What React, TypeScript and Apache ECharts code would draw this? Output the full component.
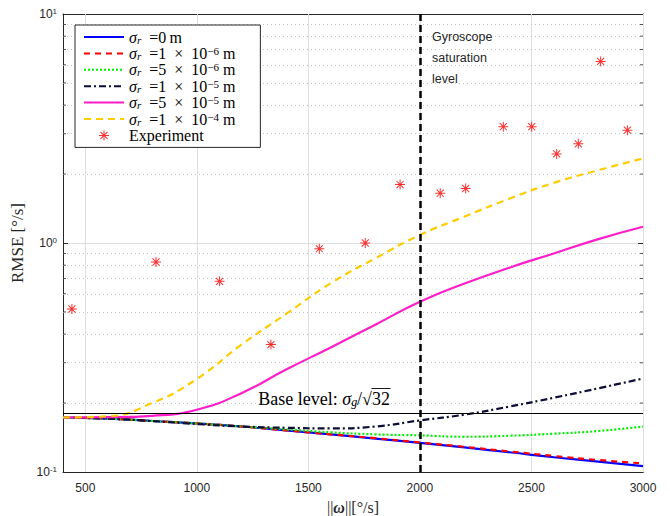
import React, { useEffect, useRef } from 'react';
import * as echarts from 'echarts';

// ---- data ----
const omega = [400, 600, 800, 1000, 1200, 1400, 1600, 1800, 2000, 2200, 2400, 2600, 2800, 3000];
const rmseSigma0 = [0.173, 0.171, 0.167, 0.163, 0.158, 0.152, 0.146, 0.140, 0.134, 0.128, 0.122, 0.116, 0.111, 0.106];
const rmseSigma1e6 = [0.173, 0.171, 0.167, 0.163, 0.158, 0.152, 0.146, 0.1405, 0.1345, 0.1288, 0.123, 0.1175, 0.1128, 0.109];
const rmseSigma5e6 = [0.173, 0.171, 0.167, 0.163, 0.158, 0.1535, 0.149, 0.146, 0.1445, 0.1425, 0.144, 0.147, 0.151, 0.158];
const rmseSigma1e5 = [0.173, 0.171, 0.167, 0.162, 0.158, 0.156, 0.155, 0.158, 0.168, 0.178, 0.193, 0.211, 0.232, 0.256];
const rmseSigma5e5 = [0.173, 0.1735, 0.176, 0.187, 0.221, 0.28, 0.35, 0.44, 0.554, 0.665, 0.78, 0.90, 1.04, 1.178];
const rmseSigma1e4 = [0.173, 0.175, 0.2, 0.255, 0.36, 0.49, 0.667, 0.857, 1.084, 1.304, 1.56, 1.83, 2.08, 2.34];
const expOmega = [440, 817, 1102, 1332, 1549, 1755, 1911, 2091, 2205, 2374, 2501, 2613, 2710, 2810, 2930];
const expRmse = [0.515, 0.826, 0.68, 0.36, 0.944, 1.0, 1.80, 1.65, 1.73, 3.22, 3.22, 2.45, 2.71, 6.21, 3.11];
const baseLevel = 0.1756;
const saturationLevel = 2000;
const xTicks = [500, 1000, 1500, 2000, 2500, 3000];
const yMinor = [0.2, 0.3, 0.4, 0.5, 0.6, 0.7, 0.8, 0.9, 2, 3, 4, 5, 6, 7, 8, 9];
const seriesNames = ['s0', 's1e6', 's5e6', 's1e5', 's5e5', 's1e4', 'exp'];
const ES = '\u2002';
const TS = '\u2009';
const legendLabels: Record<string, string> = {
  s0: `{i|σ}{sub|r}{n|${ES}=0${TS}m}`,
  s1e6: `{i|σ}{sub|r}{n|${ES}=1${ES}×${ES}10}{sup|−6}{n| m}{pad|.}`,
  s5e6: `{i|σ}{sub|r}{n|${ES}=5${ES}×${ES}10}{sup|−6}{n| m}`,
  s1e5: `{i|σ}{sub|r}{n|${ES}=1${ES}×${ES}10}{sup|−5}{n| m}`,
  s5e5: `{i|σ}{sub|r}{n|${ES}=5${ES}×${ES}10}{sup|−5}{n| m}`,
  s1e4: `{i|σ}{sub|r}{n|${ES}=1${ES}×${ES}10}{sup|−4}{n| m}`,
  exp: '{n|Experiment}',
};

const SERIF = '"Liberation Serif", "Times New Roman", serif';
const SANS = '"Liberation Sans", Arial, sans-serif';
const AX = '#262626';

const asterisk =
  'path://M-4,-4L-3.95,-4L-4,-3.95Z M24,24L23.95,24L24,23.95Z ' +
  'M9,0L11,0L11,20L9,20Z M0,9L20,9L20,11L0,11Z ' +
  'M3.64,2.22L17.78,16.36L16.36,17.78L2.22,3.64Z ' +
  'M16.36,2.22L17.78,3.64L3.64,17.78L2.22,16.36Z';

function zip(xs: number[], ys: number[]) {
  return xs.map((x, i) => [x, ys[i]]);
}

export default function App() {
  const ref = useRef<HTMLDivElement>(null);
  useEffect(() => {
    if (!ref.current) return;
    const chart = echarts.init(ref.current, undefined, { renderer: 'svg' });
    const lineSeries = (name: string, data: number[], color: string, type: any, width = 2, z = 3) => ({
      name,
      type: 'line',
      data: zip(omega, data),
      symbol: 'none',
      smooth: 0.5,
      z,
      lineStyle: { color, width, type },
      itemStyle: { color },
    });
    const sqrtX = 372;
    const option: any = {
      animation: false,
      grid: { left: 63, right: 27, top: 14, bottom: 44, containLabel: false, outerBoundsMode: 'none' },
      xAxis: [
        {
          type: 'value', min: 400, max: 3000, position: 'bottom',
          axisLine: { show: true, lineStyle: { color: AX, width: 1 } },
          axisTick: { show: true, inside: true, length: 5, customValues: xTicks, lineStyle: { color: AX } },
          axisLabel: { customValues: xTicks, fontFamily: SANS, fontSize: 12, color: AX, margin: 10, formatter: (v: number) => String(v) },
          splitLine: { show: false },
          name: '{n|||}{w|ω}{n|||[°/s]}',
          nameLocation: 'middle', nameGap: 27,
          nameTextStyle: {
            fontFamily: SERIF, fontSize: 16, color: AX, lineHeight: 16,
            rich: {
              n: { fontFamily: SERIF, fontSize: 16, color: AX, lineHeight: 16 },
              w: { fontFamily: SERIF, fontSize: 16, fontWeight: 'bold', fontStyle: 'italic', color: AX, lineHeight: 16 },
            },
          },
        },
        {
          type: 'value', min: 400, max: 3000, position: 'top',
          axisLine: { show: true, lineStyle: { color: AX, width: 1 } },
          axisTick: { show: true, inside: true, length: 5, customValues: xTicks, lineStyle: { color: AX } },
          axisLabel: { show: false },
          splitLine: { show: false },
        },
      ],
      yAxis: [
        {
          type: 'log', logBase: 10, min: 0.1, max: 10, position: 'left',
          axisLine: { show: true, lineStyle: { color: AX, width: 1 } },
          axisTick: { show: true, inside: true, length: 5, lineStyle: { color: AX } },
          axisLabel: {
            margin: 6,
            formatter: (v: number) => `{b|10}{e|${Math.round(Math.log10(v))}}`,
            rich: {
              b: { fontFamily: SANS, fontSize: 12, color: AX, lineHeight: 14 },
              e: { fontFamily: SANS, fontSize: 8, color: AX, verticalAlign: 'top', lineHeight: 8 },
            },
          },
          splitLine: { show: true, lineStyle: { color: '#dedede', width: 1 } },
          name: 'RMSE [°/s]', nameLocation: 'middle', nameGap: 34,
          nameTextStyle: { fontFamily: SERIF, fontSize: 17, color: AX },
        },
        {
          type: 'log', logBase: 10, min: 0.1, max: 10, position: 'right',
          axisLine: { show: true, lineStyle: { color: AX, width: 1 } },
          axisTick: { show: true, inside: true, length: 5, lineStyle: { color: AX } },
          axisLabel: { show: false },
          splitLine: { show: false },
        },
      ],
      legend: {
        data: seriesNames.map((n) => (n === 'exp' ? { name: n } : { name: n, itemStyle: { opacity: 0 } })),
        left: 75, top: 25, orient: 'vertical',
        itemWidth: 40, itemHeight: 14, itemGap: 0.4,
        padding: [4, 8, 4, 8],
        borderColor: AX, borderWidth: 1, backgroundColor: '#fff',
        selectedMode: false,
        formatter: (name: string) => legendLabels[name],
        textStyle: {
          fontFamily: SERIF, fontSize: 16, color: '#000',
          rich: {
            n: { fontFamily: SERIF, fontSize: 16, color: '#000', lineHeight: 16 },
            i: { fontFamily: SERIF, fontSize: 16, fontStyle: 'italic', color: '#000', lineHeight: 16 },
            sub: { fontFamily: SERIF, fontSize: 11, fontStyle: 'italic', color: '#000', verticalAlign: 'bottom', lineHeight: 8 },
            sup: { fontFamily: SERIF, fontSize: 11, color: '#000', verticalAlign: 'top', lineHeight: 7 },
            pad: { fontSize: 10, width: 17, lineHeight: 16, color: 'rgba(0,0,0,0)' },
          },
        },
      },
      series: [
        {
          name: 'grid', type: 'line', data: [[400, 0.173]], symbol: 'none', silent: true,
          lineStyle: { opacity: 0 }, z: 1,
          markLine: {
            silent: true, symbol: ['none', 'none'], z: 1, label: { show: false },
            data: [
              ...xTicks.map((v) => ({ xAxis: v, lineStyle: { color: '#dedede', width: 1, type: 'solid' } })),
              ...yMinor.map((v) => ({ yAxis: v, lineStyle: { color: '#c4c4c4', width: 1, type: [1, 3] } })),
            ],
          },
        },
        {
          name: 'minorL', type: 'scatter', data: yMinor.map((v) => [400, v]), symbol: 'rect',
          symbolSize: [3, 1], symbolOffset: [1.5, 0], itemStyle: { color: AX }, silent: true, z: 2,
        },
        {
          name: 'minorR', type: 'scatter', data: yMinor.map((v) => [3000, v]), symbol: 'rect',
          symbolSize: [3, 1], symbolOffset: [-1.5, 0], itemStyle: { color: AX }, silent: true, z: 2,
        },
        lineSeries('s0', rmseSigma0, '#0000ff', 'solid', 2.2, 3),
        lineSeries('s1e6', rmseSigma1e6, '#ff0000', [6, 5], 2.2, 4),
        lineSeries('s5e6', rmseSigma5e6, '#00ee00', [2, 2], 2.2, 5),
        lineSeries('s1e5', rmseSigma1e5, '#0c0c36', [7, 3, 2, 3], 2.2, 6),
        lineSeries('s5e5', rmseSigma5e5, '#ff1ec8', 'solid', 2.2, 7),
        lineSeries('s1e4', rmseSigma1e4, '#ffcc00', [7, 5], 2.2, 8),
        {
          name: 'exp', type: 'scatter', data: zip(expOmega, expRmse),
          symbol: asterisk, symbolSize: 14, itemStyle: { color: '#ff0000' }, z: 9,
        },
        {
          name: 'levels', type: 'line', data: [[400, 0.173]], symbol: 'none', silent: true,
          lineStyle: { opacity: 0 }, z: 10,
          markLine: {
            silent: true, symbol: ['none', 'none'], z: 10, label: { show: false },
            data: [
              { yAxis: baseLevel, lineStyle: { color: '#000', width: 1, type: 'solid' } },
              { xAxis: saturationLevel, lineStyle: { color: '#000', width: 2.5, type: [7, 4] } },
            ],
          },
        },
      ],
      graphic: [
        { type: 'text', x: 432, y: 37, z: 20, style: { text: 'Gyroscope', fill: AX, font: `12.5px ${SANS}`, verticalAlign: 'middle' } },
        { type: 'text', x: 432, y: 58, z: 20, style: { text: 'saturation', fill: AX, font: `12.5px ${SANS}`, verticalAlign: 'middle' } },
        { type: 'text', x: 432, y: 79, z: 20, style: { text: 'level', fill: AX, font: `12.5px ${SANS}`, verticalAlign: 'middle' } },
        {
          type: 'text', x: sqrtX, y: 399, z: 20,
          style: {
            text: '{t|Base level: }{i|σ}{s|g}{t|/√}',
            align: 'right', verticalAlign: 'middle',
            rich: {
              t: { fontFamily: SERIF, fontSize: 18, fill: '#000', lineHeight: 18 },
              i: { fontFamily: SERIF, fontSize: 18, fontStyle: 'italic', fill: '#000', lineHeight: 18 },
              s: { fontFamily: SERIF, fontSize: 12, fontStyle: 'italic', fill: '#000', verticalAlign: 'bottom', lineHeight: 10 },
            },
          },
        },
        { type: 'text', x: sqrtX, y: 399, z: 20, style: { text: '32', fill: '#000', font: `18px ${SERIF}`, verticalAlign: 'middle' } },
        { type: 'line', z: 20, shape: { x1: sqrtX - 0.5, y1: 388.5, x2: sqrtX + 18.5, y2: 388.5 }, style: { stroke: '#000', lineWidth: 0.9 } },
      ],
    };
    chart.setOption(option);
    return () => chart.dispose();
  }, []);
  return <div ref={ref} style={{ position: 'fixed', left: 0, top: 0, width: 670, height: 516, background: '#fff' }} />;
}
